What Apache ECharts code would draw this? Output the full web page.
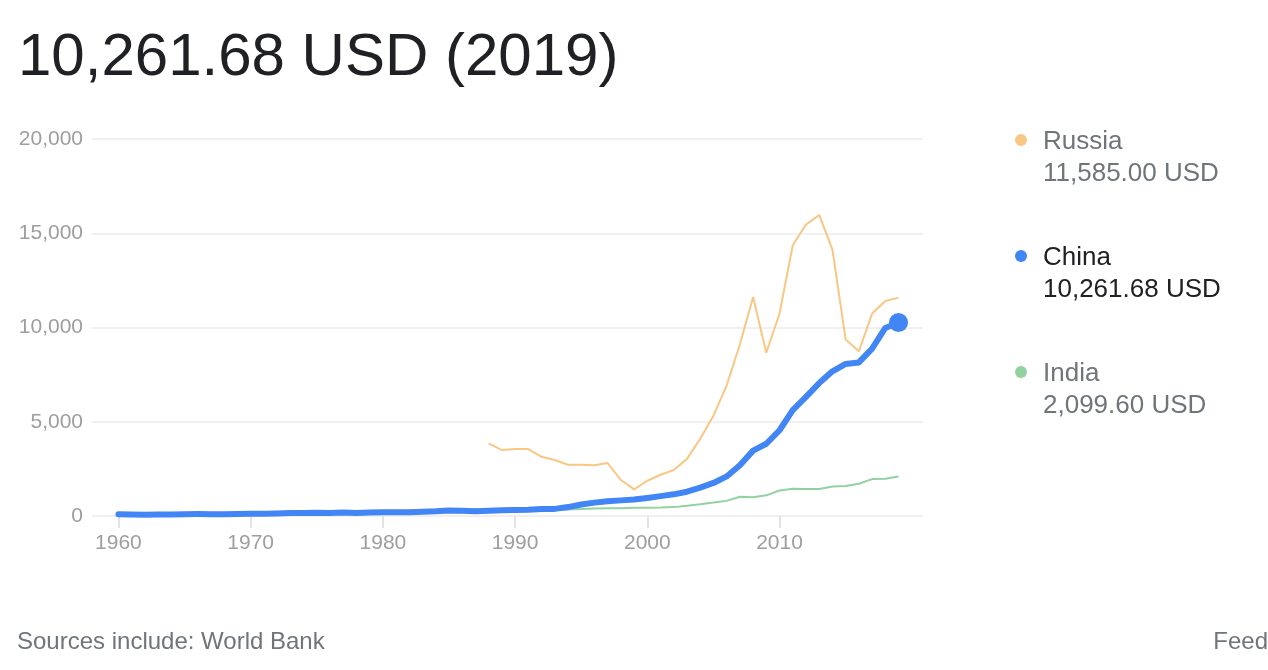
<!DOCTYPE html>
<html>
<head>
<meta charset="utf-8">
<script src="https://cdn.jsdelivr.net/npm/echarts@6/dist/echarts.min.js"></script>
<style>
html,body{margin:0;padding:0;background:#fff;}
#chart{width:1268px;height:670px;}
</style>
</head>
<body>
<div id="chart"></div>
<script>
// ---- data ----
const chinaStart = 1960;
const chinaValues = [90, 76, 71, 74, 85, 98, 104, 97, 91, 100,
  113, 119, 132, 157, 160, 178, 165, 185, 156, 184,
  195, 197, 203, 225, 251, 294, 282, 252, 283, 311,
  318, 333, 366, 377, 473, 610, 709, 782, 829, 873,
  959, 1053, 1149, 1289, 1509, 1753, 2099, 2694, 3468, 3832,
  4550, 5618, 6317, 7051, 7679, 8067, 8148, 8879, 9977, 10261.68];

const indiaStart = 1960;
const indiaValues = [82, 85, 90, 101, 116, 119, 90, 96, 99, 107,
  112, 119, 122, 143, 163, 158, 161, 186, 206, 224,
  267, 271, 274, 291, 277, 296, 310, 340, 354, 347,
  368, 303, 316, 301, 346, 374, 400, 415, 413, 442,
  443, 452, 471, 546, 624, 710, 802, 1023, 993, 1096,
  1351, 1450, 1434, 1438, 1560, 1590, 1714, 1958, 1974, 2099.60];

const russiaStart = 1988;
const russiaValues = [3850, 3500, 3550, 3550, 3140, 2970, 2720, 2720, 2690, 2810,
  1910, 1410, 1870, 2190, 2440, 3030, 4100, 5320, 6920, 9100,
  11620, 8660, 10740, 14360, 15460, 15970, 14130, 9360, 8740, 10740,
  11410, 11585.00];

const xTickLabels = [1960, 1970, 1980, 1990, 2000, 2010];
const yTickLabels = [0, 5000, 10000, 15000, 20000];
const titleText = '10,261.68 USD (2019)';
const sourceText = 'Sources include: World Bank';
const feedText = 'Feed';

// ---- helpers ----
function pairs(start, vals) { return vals.map((v, i) => [start + i, v]); }
function fmt(v) {
  return v.toLocaleString('en-US', {minimumFractionDigits: 2, maximumFractionDigits: 2}) + ' USD';
}
const FONT = "'Liberation Sans', Arial, sans-serif";
const COL_RU = '#f9c784', COL_CN = '#4285f4', COL_IN = '#93d1a1';

const legendItems = [
  {name: 'Russia', color: COL_RU, text: '#70757a', vals: russiaValues, y: 141},
  {name: 'China', color: COL_CN, text: '#202124', vals: chinaValues, y: 257},
  {name: 'India', color: COL_IN, text: '#70757a', vals: indiaValues, y: 373}
];
const graphics = [
  {type: 'text', left: 18, top: 28, style: {text: titleText, font: '60px ' + FONT, fill: '#202124'}},
  {type: 'text', left: 17, top: 630, style: {text: sourceText, font: '24px ' + FONT, fill: '#70757a'}},
  {type: 'text', right: 0, top: 630, style: {text: feedText, font: '24px ' + FONT, fill: '#70757a'}}
];
legendItems.forEach(it => {
  graphics.push({type: 'circle', shape: {cx: 1021, cy: it.y - 1, r: 6}, style: {fill: it.color}});
  graphics.push({type: 'text', x: 1043, y: it.y + 1, style: {text: it.name, font: '26px ' + FONT, fill: it.text, verticalAlign: 'middle'}});
  graphics.push({type: 'text', x: 1043, y: it.y + 33, style: {text: fmt(it.vals[it.vals.length - 1]), font: '26px ' + FONT, fill: it.text, verticalAlign: 'middle'}});
});

const chinaData = pairs(chinaStart, chinaValues);
const lastIdx = chinaData.length - 1;

const chart = echarts.init(document.getElementById('chart'), null, {renderer: 'canvas'});
chart.setOption({
  animation: false,
  backgroundColor: '#fff',
  grid: {left: 92, right: 345, top: 139, bottom: 154},
  xAxis: {
    type: 'value', min: 1958, max: 2020.85,
    axisLine: {show: false},
    splitLine: {show: false},
    axisTick: {show: true, length: 12, customValues: xTickLabels, lineStyle: {color: '#e3e3e3', width: 2}},
    axisLabel: {customValues: xTickLabels, margin: 17, fontSize: 21, color: '#9e9e9e', fontFamily: FONT, formatter: v => String(v)}
  },
  yAxis: {
    type: 'value', min: 0, max: 20000, interval: 5000,
    axisLine: {show: false}, axisTick: {show: false},
    splitLine: {lineStyle: {color: '#ebebeb', width: 1.5}},
    axisLabel: {margin: 9, fontSize: 21, color: '#9e9e9e', fontFamily: FONT,
      formatter: v => v.toLocaleString('en-US')}
  },
  series: [
    {name: 'India', type: 'line', data: pairs(indiaStart, indiaValues), showSymbol: false,
      lineStyle: {color: COL_IN, width: 2}, z: 2},
    {name: 'Russia', type: 'line', data: pairs(russiaStart, russiaValues), showSymbol: false,
      lineStyle: {color: COL_RU, width: 2}, z: 3},
    {name: 'China', type: 'line', data: chinaData, showSymbol: true, symbol: 'circle',
      symbolSize: (v, p) => p.dataIndex === lastIdx ? 19 : 0,
      itemStyle: {color: COL_CN},
      lineStyle: {color: COL_CN, width: 6, cap: 'round', join: 'round'}, z: 4}
  ],
  graphic: graphics
});
</script>
</body>
</html>
